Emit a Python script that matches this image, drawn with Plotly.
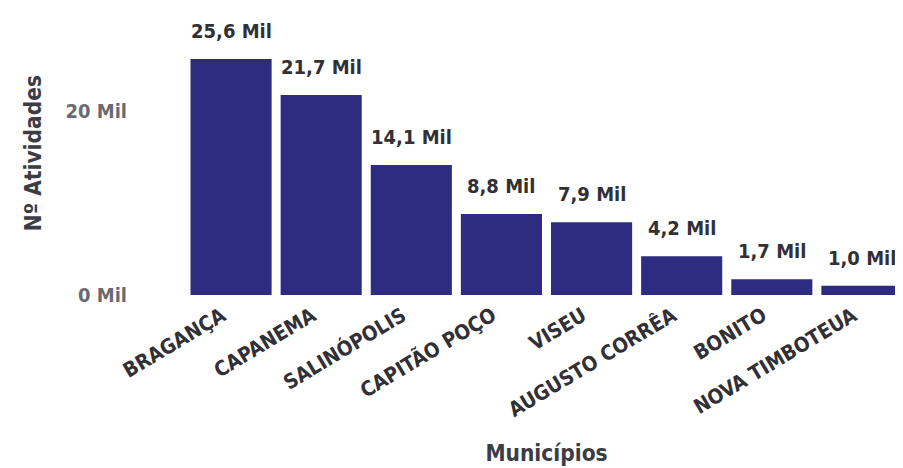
import plotly.graph_objects as go

municipios = ["BRAGANÇA", "CAPANEMA", "SALINÓPOLIS", "CAPITÃO POÇO", "VISEU",
              "AUGUSTO CORRÊA", "BONITO", "NOVA TIMBOTEUA"]
atividades_mil = [25.6, 21.7, 14.1, 8.8, 7.9, 4.2, 1.7, 1.0]
tick_vals = [0, 20]
tick_text = ["0 Mil", "20 Mil"]

labels = [f"{v:.1f}".replace(".", ",") + " Mil" for v in atividades_mil]

FONT = "DejaVu Sans Condensed, Liberation Sans Narrow, Arial Narrow, sans-serif"

fig = go.Figure(go.Bar(
    x=municipios, y=atividades_mil,
    marker=dict(color="#2e2c80", line=dict(width=0)),
))

for m, v, lab in zip(municipios, atividades_mil, labels):
    fig.add_annotation(
        x=m, y=v, text=f"<b>{lab}</b>", showarrow=False,
        yanchor="bottom", yshift=14,
        font=dict(family=FONT, size=20, color="#303036"),
    )

# y-axis title as a rotated annotation
fig.add_annotation(
    xref="paper", yref="paper", x=-0.212, y=0.55,
    text="<b>Nº Atividades</b>", textangle=-90, showarrow=False,
    xanchor="center", yanchor="middle",
    font=dict(family=FONT, size=22.5, color="#3c3c44"),
)

fig.update_layout(
    width=903, height=468,
    margin=dict(l=178, r=4, t=29, b=181),
    paper_bgcolor="white", plot_bgcolor="white",
    bargap=0.1,
    showlegend=False,
    font=dict(family=FONT),
)
fig.update_xaxes(
    tickangle=-31, tickfont=dict(family=FONT, size=20.5, color="#303036", weight="bold"),
    ticklabelshift=-9, ticklabelstandoff=4,
    title=dict(text="<b>Municípios</b>", font=dict(family=FONT, size=22.5, color="#3c3c44"), standoff=24),
    showline=False, showgrid=False, ticks="", automargin=False,
)
fig.update_yaxes(
    range=[0, 28], tickvals=tick_vals, ticktext=tick_text,
    tickfont=dict(family=FONT, size=20, color="#6a6a70", weight="bold"),
    ticklabelstandoff=58,
    showgrid=False, zeroline=False, showline=False, automargin=False,
)

fig.write_html("out.html")
